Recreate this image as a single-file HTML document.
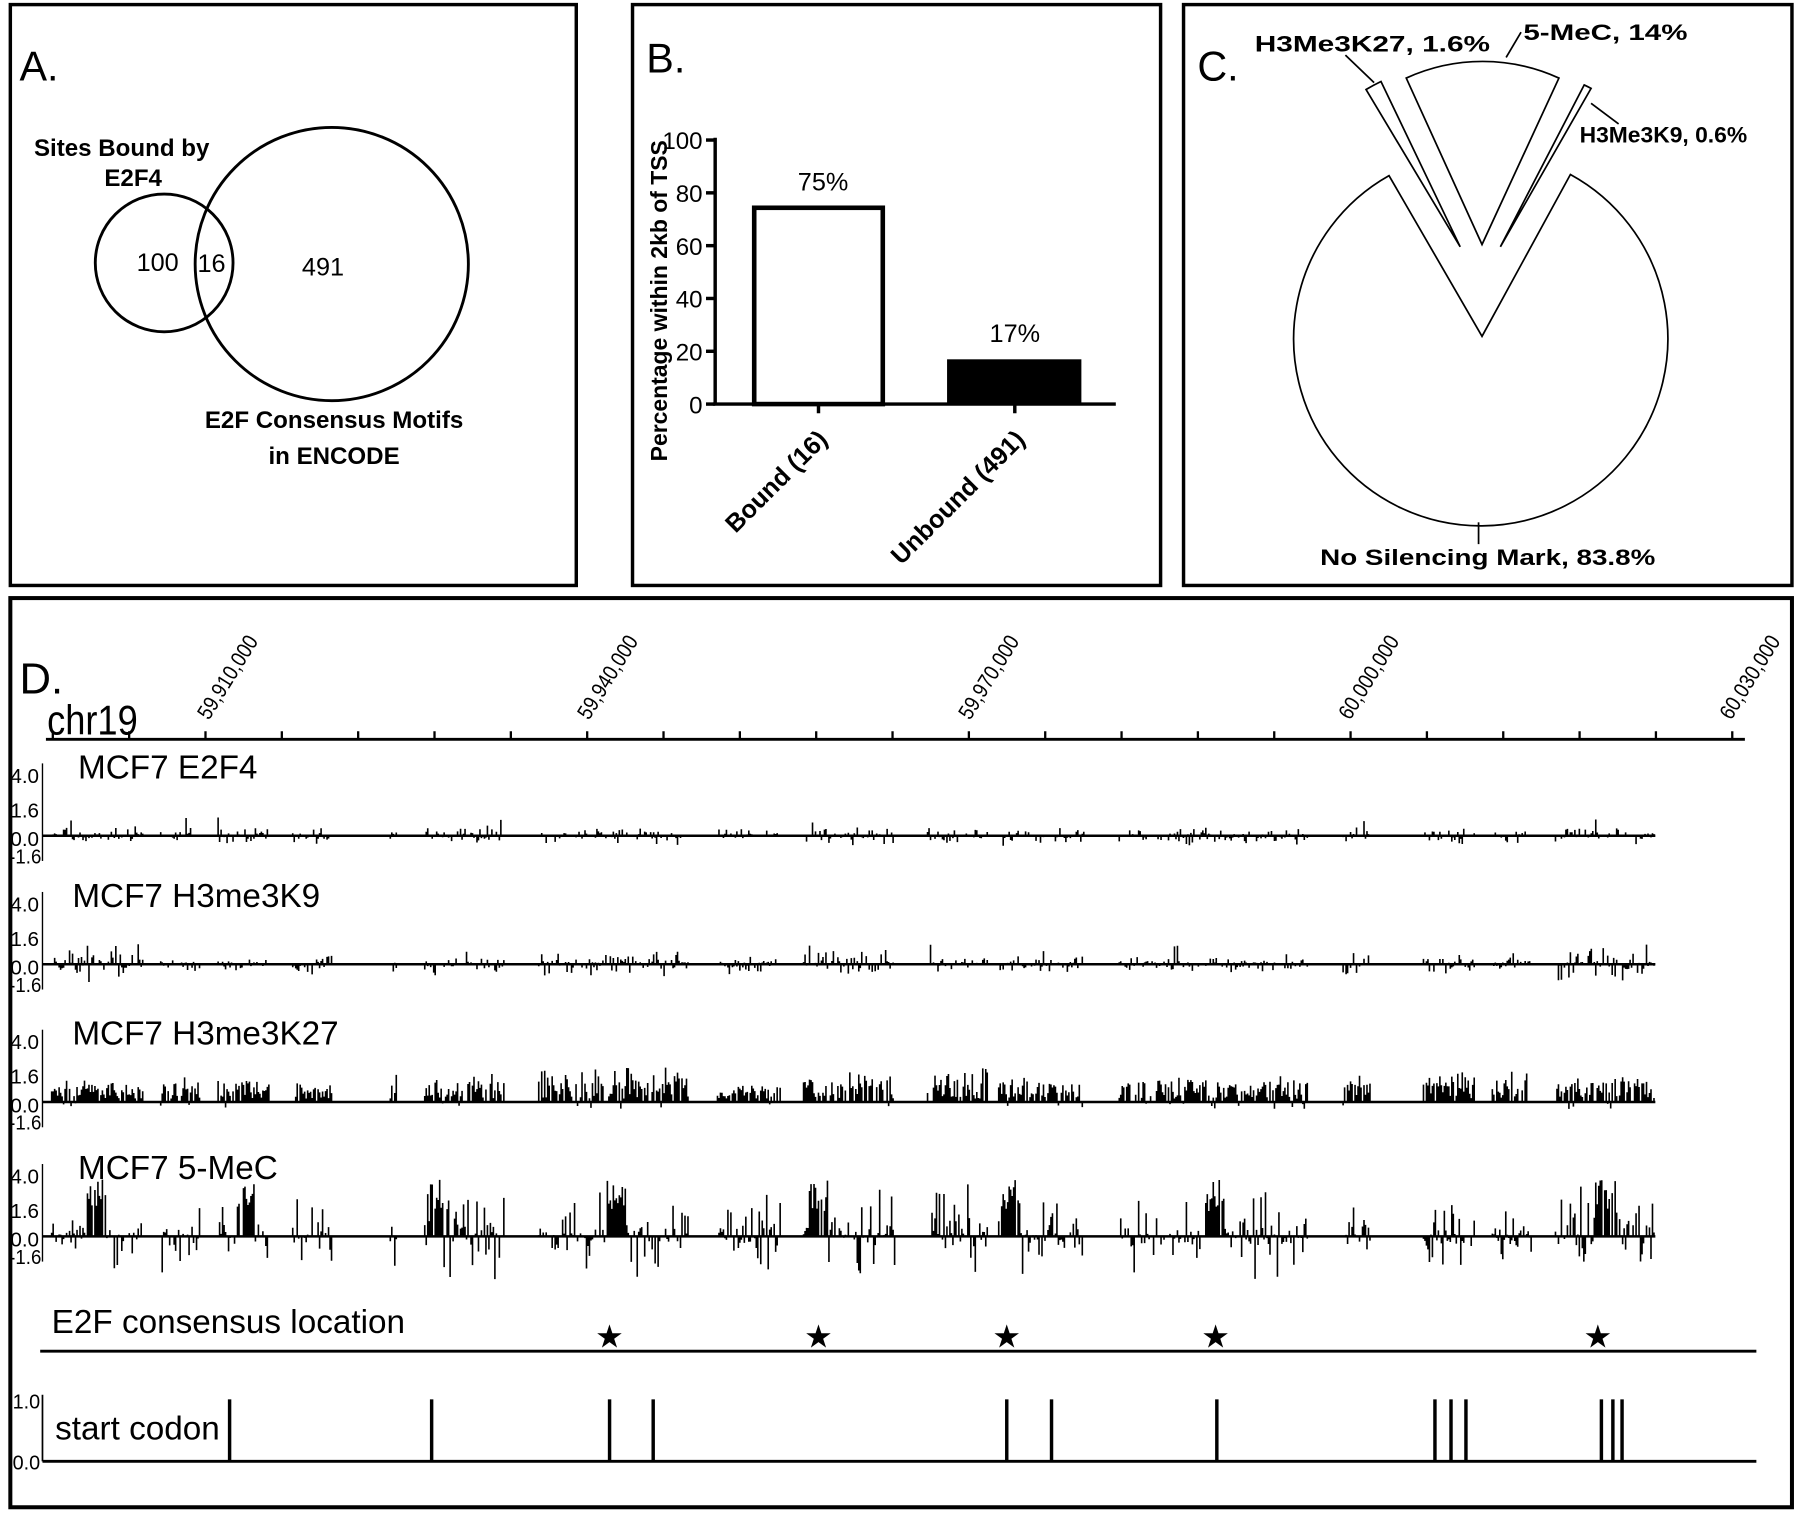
<!DOCTYPE html>
<html><head><meta charset="utf-8"><style>
html,body{margin:0;padding:0;background:#fff}
svg{display:block}
text{font-family:"Liberation Sans",sans-serif;fill:#000}
.b{font-weight:bold}
</style></head><body>
<svg id="s" width="1800" height="1513" viewBox="0 0 1568 1318" xmlns="http://www.w3.org/2000/svg">
<rect x="0" y="0" width="1568" height="1318" fill="#fff"/>
<!-- Panel A -->
<rect x="9" y="4" width="493" height="506" fill="none" stroke="#000" stroke-width="3"/>
<text x="17" y="70" font-size="36">A.</text>
<circle cx="143" cy="229" r="60" fill="none" stroke="#000" stroke-width="2.5"/>
<circle cx="289" cy="230" r="119" fill="none" stroke="#000" stroke-width="2.5"/>
<text x="119" y="236" font-size="22">100</text>
<text x="172" y="237" font-size="22">16</text>
<text x="263" y="240" font-size="22">491</text>
<text x="106" y="136" font-size="21" class="b" text-anchor="middle">Sites Bound by</text>
<text x="116" y="162" font-size="21" class="b" text-anchor="middle">E2F4</text>
<text x="291" y="373" font-size="21" class="b" text-anchor="middle">E2F Consensus Motifs</text>
<text x="291" y="404" font-size="21" class="b" text-anchor="middle">in ENCODE</text>
<!-- Panel B -->
<rect x="551" y="4" width="460" height="506" fill="none" stroke="#000" stroke-width="3"/>
<text x="563" y="63" font-size="36">B.</text>
<g stroke="#000" stroke-width="3">
<line x1="623" y1="120" x2="623" y2="353"/>
<line x1="621" y1="352" x2="972" y2="352"/>
<line x1="615" y1="122" x2="623" y2="122"/><line x1="615" y1="168" x2="623" y2="168"/>
<line x1="615" y1="214" x2="623" y2="214"/><line x1="615" y1="260" x2="623" y2="260"/>
<line x1="615" y1="306" x2="623" y2="306"/><line x1="615" y1="352" x2="623" y2="352"/>
<line x1="713" y1="352" x2="713" y2="360"/><line x1="884" y1="352" x2="884" y2="360"/>
</g>
<g font-size="21" text-anchor="end">
<text x="612" y="130">100</text><text x="612" y="176">80</text><text x="612" y="222">60</text>
<text x="612" y="268">40</text><text x="612" y="314">20</text><text x="612" y="360">0</text>
</g>
<rect x="657" y="181" width="112" height="171" fill="#fff" stroke="#000" stroke-width="4"/>
<rect x="825" y="313" width="117" height="39" fill="#000"/>
<text x="717" y="166" font-size="22" text-anchor="middle">75%</text>
<text x="884" y="298" font-size="22" text-anchor="middle">17%</text>
<text transform="translate(722,384) rotate(-45)" font-size="22" class="b" text-anchor="end">Bound (16)</text>
<text transform="translate(894,384) rotate(-45)" font-size="22" class="b" text-anchor="end">Unbound (491)</text>
<text transform="translate(581,262) rotate(-90)" font-size="20" class="b" text-anchor="middle">Percentage within 2kb of TSS</text>
<!-- Panel C -->
<rect x="1031" y="4" width="530" height="506" fill="none" stroke="#000" stroke-width="3"/>
<text x="1043" y="70" font-size="36">C.</text>
<g fill="#fff" stroke="#000" stroke-width="1.5">
<path d="M1291,293 L1210,153 A163,163 0 1 0 1368,152 Z"/>
<path d="M1291,213 L1225,68 A160,160 0 0 1 1358,68 Z"/>
<path d="M1272,215 L1190,78 A160,160 0 0 1 1203,71 Z"/>
<path d="M1307,215 L1380,74 A160,160 0 0 1 1386,77 Z"/>
<line x1="1312" y1="50" x2="1325" y2="28"/>
<line x1="1197" y1="72" x2="1172" y2="48"/>
<line x1="1386" y1="90" x2="1410" y2="108"/>
<line x1="1288" y1="455" x2="1288" y2="474"/>
</g>
<g font-size="19" class="b">
<text x="1327" y="35" textLength="143" lengthAdjust="spacingAndGlyphs">5-MeC, 14%</text>
<text x="1093" y="45" textLength="205" lengthAdjust="spacingAndGlyphs">H3Me3K27, 1.6%</text>
<text x="1376" y="124" textLength="146" lengthAdjust="spacingAndGlyphs">H3Me3K9, 0.6%</text>
<text x="1150" y="492" textLength="292" lengthAdjust="spacingAndGlyphs">No Silencing Mark, 83.8%</text>
</g>
<!-- Panel D -->
<rect x="9" y="521" width="1552" height="792" fill="none" stroke="#000" stroke-width="3.5"/>
<text x="17" y="604" font-size="38">D.</text>
<text x="41" y="640" font-size="36" textLength="79" lengthAdjust="spacingAndGlyphs">chr19</text>
<line x1="40" y1="644" x2="1520" y2="644" stroke="#000" stroke-width="2.5"/>
<g id="ticks" stroke="#000" stroke-width="2"></g>
<g font-size="19">
<text transform="translate(182,628) rotate(-58)" textLength="82" lengthAdjust="spacingAndGlyphs">59,910,000</text>
<text transform="translate(513,628) rotate(-58)" textLength="82" lengthAdjust="spacingAndGlyphs">59,940,000</text>
<text transform="translate(845,628) rotate(-58)" textLength="82" lengthAdjust="spacingAndGlyphs">59,970,000</text>
<text transform="translate(1176,628) rotate(-58)" textLength="82" lengthAdjust="spacingAndGlyphs">60,000,000</text>
<text transform="translate(1508,628) rotate(-58)" textLength="82" lengthAdjust="spacingAndGlyphs">60,030,000</text>
</g>
<g id="tracks"></g>
<text x="45" y="1161" font-size="29">E2F consensus location</text>
<line x1="35" y1="1177" x2="1530" y2="1177" stroke="#000" stroke-width="2.5"/>
<g font-size="28" text-anchor="middle">
<text x="531" y="1174">★</text><text x="713" y="1174">★</text><text x="877" y="1174">★</text>
<text x="1059" y="1174">★</text><text x="1392" y="1174">★</text>
</g>
<line x1="37" y1="1215" x2="37" y2="1273" stroke="#000" stroke-width="1.5"/>
<line x1="37" y1="1273" x2="1530" y2="1273" stroke="#000" stroke-width="2.5"/>
<text x="11" y="1227" font-size="18" textLength="24" lengthAdjust="spacingAndGlyphs">1.0</text>
<text x="11" y="1280" font-size="18" textLength="24" lengthAdjust="spacingAndGlyphs">0.0</text>
<text x="48" y="1254" font-size="29">start codon</text>
<g stroke="#000" stroke-width="3">
<line x1="200" y1="1219" x2="200" y2="1273"/><line x1="376" y1="1219" x2="376" y2="1273"/>
<line x1="531" y1="1219" x2="531" y2="1273"/><line x1="569" y1="1219" x2="569" y2="1273"/>
<line x1="877" y1="1219" x2="877" y2="1273"/><line x1="916" y1="1219" x2="916" y2="1273"/>
<line x1="1060" y1="1219" x2="1060" y2="1273"/><line x1="1250" y1="1219" x2="1250" y2="1273"/>
<line x1="1264" y1="1219" x2="1264" y2="1273"/><line x1="1277" y1="1219" x2="1277" y2="1273"/>
<line x1="1395" y1="1219" x2="1395" y2="1273"/><line x1="1405" y1="1219" x2="1405" y2="1273"/>
<line x1="1413" y1="1219" x2="1413" y2="1273"/>
</g>
</svg>
<script>
(function(){
var NS="http://www.w3.org/2000/svg";
var tk=document.getElementById("ticks");
for(var x=46;x<=1510;x+=66.5){var l=document.createElementNS(NS,"line");l.setAttribute("x1",x);l.setAttribute("x2",x);l.setAttribute("y1",637);l.setAttribute("y2",644);tk.appendChild(l);}
var seed=11;function r(){seed=(seed*16807)%2147483647;return seed/2147483647;}
var segs=[[45,125],[140,175],[190,235],[255,290],[340,346],[370,440],[468,600],[625,680],[700,780],[808,860],[870,945],[975,1140],[1170,1195],[1240,1285],[1300,1335],[1355,1442]];
var g=document.getElementById("tracks");
var tr=[
 {y:728,name:"MCF7 E2F4",tx:68,t:0},
 {y:840,name:"MCF7 H3me3K9",tx:63,t:1},
 {y:960,name:"MCF7 H3me3K27",tx:63,t:2},
 {y:1077,name:"MCF7 5-MeC",tx:68,t:3}];
var peaks=[80,210,380,533,710,877,1055,1395];
tr.forEach(function(t){
 var y=t.y;
 var h='';
 [["4.0",y-53],["1.6",y-23],["0.0",y+2],["-1.6",y+17]].forEach(function(a){
  var lab=a[0];
  h+='<text x="'+(lab[0]=="-"?8:9)+'" y="'+(a[1]+7)+'" font-size="18" textLength="'+(lab[0]=="-"?28:25)+'" lengthAdjust="spacingAndGlyphs">'+lab+'</text>';
 });
 h+='<line x1="37" y1="'+(y-63)+'" x2="37" y2="'+(y+22)+'" stroke="#000" stroke-width="1.2"/>';
 h+='<text x="'+t.tx+'" y="'+(y-50)+'" font-size="29">'+t.name+'</text>';
 h+='<line x1="37" y1="'+y+'" x2="1442" y2="'+y+'" stroke="#000" stroke-width="2.2"/>';
 var d='';
 segs.forEach(function(s){
  var env=0.5+r();
  for(var x=s[0];x<=s[1];x+=1.3){
   var v;
   if(r()<0.2)continue;
   if(t.t==3){
    var pk=0,ng=0;
    peaks.forEach(function(p){var dx=x-p;if(dx>-5&&dx<12)pk=1;if(dx>=12&&dx<42)ng=1;});
    if(pk){v=-(22+r()*28);}
    else if(r()<0.5) v=-(r()*r()*38*env);
    else v=r()*r()*(25+ng*20)*env;
    if(r()<0.03)v=(r()<0.5?-1:1)*(25+r()*15);
   } else if(t.t==2){
    v=-(3+r()*22*env*(0.5+0.5*r()));
    if(r()<0.06)v=r()*6;
   } else if(t.t==1){
    v=(r()<0.55?-1:1)*r()*r()*12*env;
    if(r()<0.03)v=-(8+r()*10);
   } else {
    v=(r()<0.5?-1:1)*r()*r()*9;
    if(r()<0.015)v=-(8+r()*8);
   }
   d+='M'+x.toFixed(1)+','+y+'v'+v.toFixed(1);
  }
 });
 h+='<path d="'+d+'" stroke="#000" stroke-width="1.4" fill="none"/>';
 var gg=document.createElementNS(NS,"g");gg.innerHTML=h;g.appendChild(gg);
});
})();
</script>
</body></html>
